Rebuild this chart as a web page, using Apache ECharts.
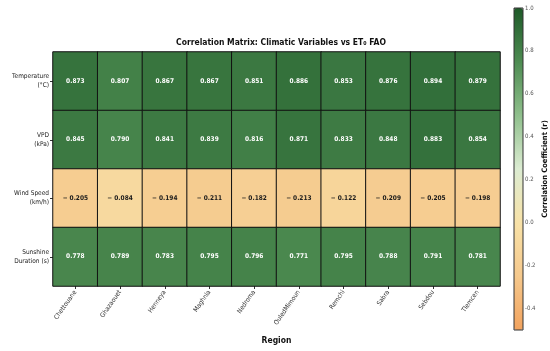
<!DOCTYPE html>
<html><head><meta charset="utf-8">
<script src="https://cdn.jsdelivr.net/npm/echarts@6/dist/echarts.min.js"></script>
<style>html,body{margin:0;padding:0;background:#fff}#c{width:550px;height:351px}</style>
</head><body><div id="c"></div>
<script>
const regions = ['Chettouane','Ghazaouet','Henneya','Maghnia','Nedroma','OuledMimoun','Remchi','Sabra','Sebdou','Tlemcen'];
const variables = ['Temperature\n(°C)','VPD\n(kPa)','Wind Speed\n(km/h)','Sunshine\nDuration (s)'];
const temperature = [0.873,0.807,0.867,0.867,0.851,0.886,0.853,0.876,0.894,0.879];
const vpd = [0.845,0.790,0.841,0.839,0.816,0.871,0.833,0.848,0.883,0.854];
const windSpeed = [-0.205,-0.084,-0.194,-0.211,-0.182,-0.213,-0.122,-0.209,-0.205,-0.198];
const sunshine = [0.778,0.789,0.783,0.795,0.796,0.771,0.795,0.788,0.791,0.781];
const colorbarTicks = [-0.4,-0.2,0.0,0.2,0.4,0.6,0.8,1.0];
const cmin = -0.5, cmax = 1.0;

const rows = [temperature, vpd, windSpeed, sunshine];
const data = [];
rows.forEach((r, yi) => r.forEach((v, xi) => {
  data.push({value:[xi, yi, v], label:{color: v > 0.3 ? '#ffffff' : '#1a1a1a'}});
}));
const FONT = 'DejaVu Sans Condensed';
const chart = echarts.init(document.getElementById('c'));
chart.setOption({
  backgroundColor:'#fff',
  animation:false,
  textStyle:{fontFamily:FONT},
  title:{text:'Correlation Matrix: Climatic Variables vs ET\u2080 FAO', left:276, textAlign:'center', top:33,
    textStyle:{fontFamily:FONT, fontSize:8.5, fontWeight:'bold', color:'#111'}},
  grid:[
    {left:53, top:52, width:447, height:234, outerBoundsMode:'none'},
    {left:514, top:8, width:9, height:322, show:true, borderColor:'#333', borderWidth:1, backgroundColor:'transparent', z:10, outerBoundsMode:'none'}
  ],
  xAxis:[
    {type:'category', data:regions, gridIndex:0, name:'Region', nameLocation:'middle', nameGap:50,
     nameTextStyle:{fontFamily:FONT, fontSize:8.5, fontWeight:'bold', color:'#111'},
     axisLine:{show:false}, axisTick:{show:true, length:3, lineStyle:{color:'#333'}, alignWithLabel:true},
     axisLabel:{rotate:55, fontSize:6.5, color:'#333', margin:5, interval:0}},
    {type:'value', gridIndex:1, show:false, min:0, max:1}
  ],
  yAxis:[
    {type:'category', data:variables, gridIndex:0, inverse:true, name:'Climatic Variable', nameLocation:'middle', nameGap:42, nameRotate:90,
     nameTextStyle:{fontFamily:FONT, fontSize:8.5, fontWeight:'bold', color:'#111'},
     axisLine:{show:false}, axisTick:{show:true, length:3, lineStyle:{color:'#333'}, alignWithLabel:true},
     axisLabel:{fontSize:6.5, color:'#222', margin:4, lineHeight:9, align:'right'}},
    {type:'value', gridIndex:1, position:'right', min:cmin, max:cmax,
     name:'Correlation Coefficient (r)', nameLocation:'middle', nameGap:18, nameRotate:90,
     nameTextStyle:{fontFamily:FONT, fontSize:7.5, fontWeight:'bold', color:'#111'},
     axisLine:{show:false}, splitLine:{show:false},
     axisTick:{show:true, length:2, lineStyle:{color:'#555'}, customValues:colorbarTicks},
     axisLabel:{fontSize:6, color:'#555', margin:2, customValues:colorbarTicks, formatter:v=>v.toFixed(1)}}
  ],
  visualMap:{type:'continuous', min:cmin, max:cmax, seriesIndex:0, left:514, top:8, itemWidth:9, itemHeight:322,
    padding:0, calculable:false, hoverLink:false, text:null, orient:'vertical',
    inRange:{color:['#f2a35e','#f5c88c','#f8e2a8','#dcecd2','#8fbf8c','#4e8c52','#1e5a28']}},
  series:[{
    type:'heatmap', xAxisIndex:0, yAxisIndex:0, data:data,
    itemStyle:{borderColor:'#111', borderWidth:1},
    label:{show:true, fontSize:6.5, fontWeight:'bold', fontFamily:FONT,
      formatter:p=>{const v=p.value[2]; return v<0 ? '\u2212 '+Math.abs(v).toFixed(3) : v.toFixed(3);}}
  }]
});
</script></body></html>
